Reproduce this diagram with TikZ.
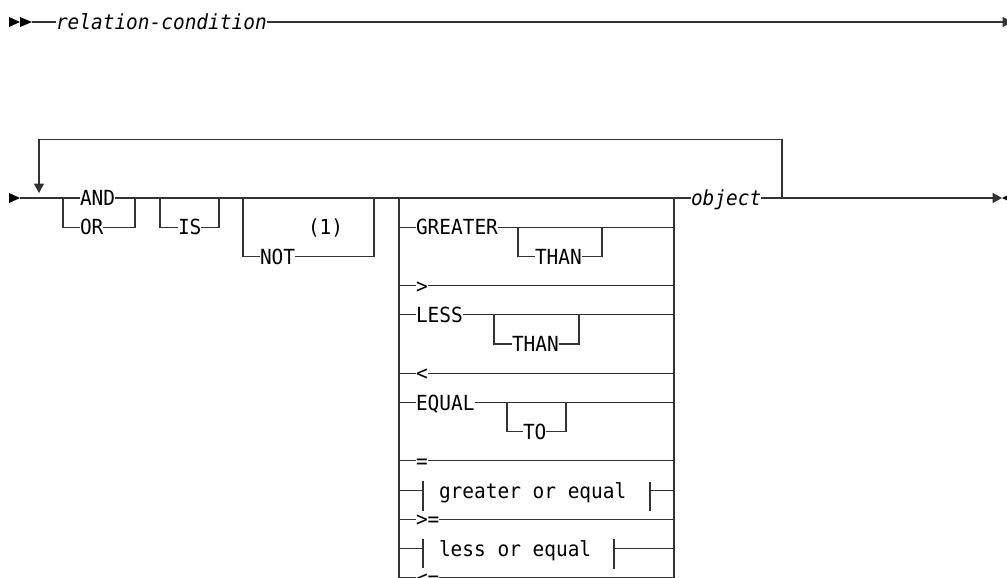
\documentclass[tikz,border=0pt]{standalone}
\usepackage{fontspec}
\setmonofont{DejaVu Sans Mono}[FakeStretch=0.935]
\usetikzlibrary{arrows.meta}
\definecolor{railgray}{HTML}{333333}

\tikzset{
  kw/.style={font=\ttfamily\fontsize{15.6}{18}\selectfont, inner sep=0pt, outer sep=0pt,
    text height=11.4pt, text depth=0pt, anchor=west},
  var/.style={kw, font=\ttfamily\itshape\fontsize{15.6}{18}\selectfont},
  rail/.style={draw=railgray},
  tip/.style={-{Triangle[length=7pt,width=7.5pt]}}
}

\begin{document}
\begin{tikzpicture}[x=0.75pt, y=-0.75pt, line width=1pt]
  \useasboundingbox (0,0) rectangle (1007,578);
  \clip (0,0) rectangle (1007,578);

  % first line
  \fill (9,17) -- (20,22) -- (9,27) -- cycle;
  \fill (20,17) -- (32,22) -- (20,27) -- cycle;
  \coordinate (r1s) at (32,22);
  \coordinate (r1e) at (1012,22);
  \node[var] (relcond) at (56,22) {relation-condition};
  \draw[rail] (r1s) -- (relcond.west);
  \draw[rail, tip] (relcond.east) -- (r1e);

  % second line: start and end
  \fill (9,193) -- (20,198) -- (9,203) -- cycle;
  \coordinate (r2s) at (20,198);
  \coordinate (r2e) at (1002,198);
  \node[kw] (and) at (80,198) {AND};
  \node[var] (obj) at (691,198) {object};
  \draw[rail] (r2s) -- (and.west);
  \draw[rail] (and.east) -- (obj.west);
  \draw[rail, tip] (obj.east) -- (r2e);
  \fill (1012,193) -- (1002,198) -- (1012,203) -- cycle;

  % repeat loop
  \coordinate (loopR) at (782,198);
  \coordinate (loopTop) at (39,139.6);
  \coordinate (loopTip) at (39,193);
  \draw[rail, tip] (loopR) |- (loopTop) -- (loopTip);

  % AND / OR
  \coordinate (aoL) at (63,198);
  \coordinate (aoR) at (135,198);
  \node[kw] (or) at (80,227.2) {OR};
  \draw[rail] (aoL) |- (or.west);
  \draw[rail] (or.east) -| (aoR);

  % IS
  \coordinate (isL) at (160,198);
  \coordinate (isR) at (219,198);
  \node[kw] (is) at (178,227.2) {IS};
  \draw[rail] (isL) |- (is.west);
  \draw[rail] (is.east) -| (isR);

  % NOT with note
  \coordinate (notL) at (243,198);
  \coordinate (notR) at (374,198);
  \node[kw] (not) at (260,256.4) {NOT};
  \node[kw] (note) at (308,227.2) {(1)};
  \draw[rail] (notL) |- (not.west);
  \draw[rail] (not.east) -| (notR);

  % comparison operators
  \coordinate (stkL) at (399,198);
  \coordinate (stkR) at (674,198);
  \coordinate (stkLb) at (399,590);
  \coordinate (stkRb) at (674,590);
  \draw[rail] (stkL) -- (stkLb);
  \draw[rail] (stkR) -- (stkRb);

  \node[kw] (gt) at (416,227.2) {GREATER};
  \node[kw] (than1) at (535,256.4) {THAN};
  \coordinate (than1L) at (518,227.2);
  \coordinate (than1R) at (602,227.2);
  \draw[rail] (stkL |- gt) -- (gt.west);
  \draw[rail] (gt.east) -- (stkR |- gt);
  \draw[rail] (than1L) |- (than1.west);
  \draw[rail] (than1.east) -| (than1R);

  \node[kw] (gtsym) at (416,285.6) {>};
  \draw[rail] (stkL |- gtsym) -- (gtsym.west);
  \draw[rail] (gtsym.east) -- (stkR |- gtsym);

  \node[kw] (less) at (416,314.8) {LESS};
  \node[kw] (than2) at (512,344) {THAN};
  \coordinate (than2L) at (494,314.8);
  \coordinate (than2R) at (579,314.8);
  \draw[rail] (stkL |- less) -- (less.west);
  \draw[rail] (less.east) -- (stkR |- less);
  \draw[rail] (than2L) |- (than2.west);
  \draw[rail] (than2.east) -| (than2R);

  \node[kw] (ltsym) at (416,373.2) {<};
  \draw[rail] (stkL |- ltsym) -- (ltsym.west);
  \draw[rail] (ltsym.east) -- (stkR |- ltsym);

  \node[kw] (equal) at (416,402.4) {EQUAL};
  \node[kw] (to) at (523,431.6) {TO};
  \coordinate (toL) at (507,402.4);
  \coordinate (toR) at (566,402.4);
  \draw[rail] (stkL |- equal) -- (equal.west);
  \draw[rail] (equal.east) -- (stkR |- equal);
  \draw[rail] (toL) |- (to.west);
  \draw[rail] (to.east) -| (toR);

  \node[kw] (eqsym) at (416,460.8) {=};
  \draw[rail] (stkL |- eqsym) -- (eqsym.west);
  \draw[rail] (eqsym.east) -- (stkR |- eqsym);

  % fragment references
  \node[kw] (goe) at (439,490.5) {greater or equal};
  \coordinate (goeL) at (423,490.5);
  \coordinate (goeR) at (650,490.5);
  \draw[rail] (stkL |- goe) -- (goeL);
  \draw[rail] (423,480.5) -- (423,511);
  \draw[rail] (650,481.5) -- (650,511);
  \draw[rail] (goeR) -- (stkR |- goe);

  \node[kw] (gesym) at (416,519.2) {>=};
  \draw[rail] (stkL |- gesym) -- (gesym.west);
  \draw[rail] (gesym.east) -- (stkR |- gesym);

  \node[kw] (loe) at (439,548.4) {less or equal};
  \coordinate (loeL) at (423,548.4);
  \coordinate (loeR) at (614,548.4);
  \draw[rail] (stkL |- loe) -- (loeL);
  \draw[rail] (423,538.5) -- (423,568);
  \draw[rail] (614,538.5) -- (614,569);
  \draw[rail] (loeR) -- (stkR |- loe);

  \node[kw] (lesym) at (416,577.6) {<=};
  \draw[rail] (stkL |- lesym) -- (lesym.west);
  \draw[rail] (lesym.east) -- (stkR |- lesym);
\end{tikzpicture}
\end{document}
